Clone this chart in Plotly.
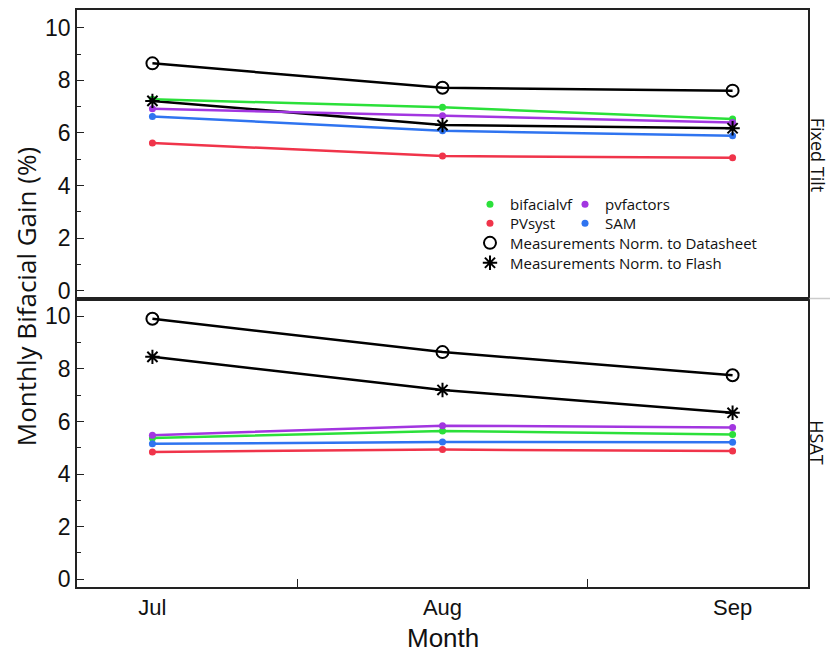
import plotly.graph_objects as go
from plotly.subplots import make_subplots

months = ["Jul", "Aug", "Sep"]

# Fixed Tilt panel
ft_bifacialvf = [7.28, 6.98, 6.53]
ft_pvfactors = [6.92, 6.66, 6.40]
ft_sam = [6.63, 6.08, 5.89]
ft_pvsyst = [5.62, 5.12, 5.06]
ft_datasheet = [8.65, 7.72, 7.61]
ft_flash = [7.22, 6.30, 6.18]

# HSAT panel
hs_bifacialvf = [5.37, 5.64, 5.50]
hs_pvfactors = [5.48, 5.84, 5.77]
hs_sam = [5.15, 5.22, 5.21]
hs_pvsyst = [4.84, 4.93, 4.88]
hs_datasheet = [9.91, 8.64, 7.76]
hs_flash = [8.46, 7.20, 6.33]

model_names = ["bifacialvf", "pvfactors", "PVsyst", "SAM"]
model_colors = {"bifacialvf": "#2be03a", "PVsyst": "#f0344a",
                "pvfactors": "#a236e0", "SAM": "#2f74f0"}
model_legend = {"bifacialvf": "legend", "pvfactors": "legend2",
                "PVsyst": "legend5", "SAM": "legend6"}
ft_models = {"bifacialvf": ft_bifacialvf, "PVsyst": ft_pvsyst,
             "pvfactors": ft_pvfactors, "SAM": ft_sam}
hs_models = {"bifacialvf": hs_bifacialvf, "PVsyst": hs_pvsyst,
             "pvfactors": hs_pvfactors, "SAM": hs_sam}

fig = make_subplots(rows=2, cols=1, shared_xaxes=True, vertical_spacing=0)

# measurement lines (drawn first)
for row, ds, fl in [(1, ft_datasheet, ft_flash), (2, hs_datasheet, hs_flash)]:
    for vals in (ds, fl):
        fig.add_trace(go.Scatter(x=months, y=vals, mode="lines",
                                 line=dict(color="black", width=2.5),
                                 showlegend=False, hoverinfo="skip"),
                      row=row, col=1)

# model lines + markers
for row, models in [(1, ft_models), (2, hs_models)]:
    for name in ["SAM", "PVsyst", "pvfactors", "bifacialvf"]:
        c = model_colors[name]
        fig.add_trace(go.Scatter(x=months, y=models[name], mode="lines",
                                 line=dict(color=c, width=2.5),
                                 showlegend=False, hoverinfo="skip"),
                      row=row, col=1)
    for name in model_names:
        c = model_colors[name]
        fig.add_trace(go.Scatter(x=months, y=models[name], mode="markers",
                                 marker=dict(color=c, size=7),
                                 name=name, legend=model_legend[name],
                                 showlegend=(row == 1)),
                      row=row, col=1)

# measurement markers
for row, ds, fl in [(1, ft_datasheet, ft_flash), (2, hs_datasheet, hs_flash)]:
    fig.add_trace(go.Scatter(x=months, y=ds, mode="markers",
                             marker=dict(symbol="circle-open", size=12, color="black",
                                         line=dict(width=2, color="black")),
                             name="Measurements Norm. to Datasheet", legend="legend3",
                             showlegend=(row == 1)), row=row, col=1)
    fig.add_trace(go.Scatter(x=months, y=fl, mode="markers",
                             marker=dict(symbol="asterisk-open", size=12, color="black",
                                         line=dict(width=2, color="black")),
                             name="Measurements Norm. to Flash", legend="legend4",
                             showlegend=(row == 1)), row=row, col=1)

axis_line = dict(showline=True, linecolor="#222", linewidth=1.5, mirror=True,
                 showgrid=False, zeroline=False)
tickfont = dict(family="Liberation Sans, Arial", size=23, color="#111")
yax = dict(axis_line, range=[-0.3, 10.68], tickmode="linear", tick0=0, dtick=2,
           ticks="inside", ticklen=7, tickwidth=1.3, tickcolor="#222",
           tickfont=tickfont, automargin=False,
           minor=dict(dtick=1, tick0=0, ticks="inside", ticklen=4, tickwidth=1.2,
                      tickcolor="#222"))
fig.update_yaxes(**yax)
fig.update_xaxes(axis_line, type="category", range=[-0.26, 2.26], automargin=False)
fig.update_xaxes(showticklabels=False, ticks="", row=1, col=1)
fig.update_xaxes(tickson="boundaries", ticks="inside", ticklen=8, tickwidth=1.3,
                 tickcolor="#222", ticklabelstandoff=0,
                 tickfont=dict(family="Liberation Sans, Arial", size=22, color="#111"),
                 row=2, col=1)

legfont = dict(family="Open Sans, Noto Sans", size=15, color="#111")
leg_common = dict(xanchor="left", yanchor="middle", font=legfont,
                  bgcolor="rgba(0,0,0,0)", itemwidth=30)
fig.update_layout(
    width=822, height=649,
    margin=dict(l=69, r=22, t=2, b=70, autoexpand=False),
    plot_bgcolor="white", paper_bgcolor="white",
    legend=dict(leg_common, x=0.5376, y=0.663),
    legend2=dict(leg_common, x=0.6676, y=0.663),
    legend5=dict(leg_common, x=0.5376, y=0.630),
    legend6=dict(leg_common, x=0.6676, y=0.630),
    legend3=dict(leg_common, x=0.5376, y=0.596),
    legend4=dict(leg_common, x=0.5376, y=0.5615),
    annotations=[
        dict(text="Month", x=0.5, y=-0.0884, xref="paper", yref="paper",
             showarrow=False, xanchor="center", yanchor="middle",
             font=dict(family="Liberation Sans, Arial", size=26, color="#111")),
        dict(text="Monthly Bifacial Gain (%)", x=-0.0698, y=0.504, xref="paper", yref="paper",
             textangle=-90, showarrow=False, xanchor="center", yanchor="middle",
             font=dict(family="Open Sans, Noto Sans", size=26, color="#111")),
        dict(text="Fixed Tilt", x=1.013, y=0.75, xref="paper", yref="paper",
             textangle=90, showarrow=False, xanchor="center", yanchor="middle",
             font=dict(family="Open Sans, Noto Sans", size=18, color="#111")),
        dict(text="HSAT", x=1.013, y=0.25, xref="paper", yref="paper",
             textangle=90, showarrow=False, xanchor="center", yanchor="middle",
             font=dict(family="Open Sans, Noto Sans", size=18, color="#111")),
    ],
    shapes=[dict(type="line", xref="paper", yref="paper", x0=1.002, x1=1.05, y0=0.5, y1=0.5,
                 line=dict(color="#cccccc", width=1.5))],
)

fig.write_html("out.html")
